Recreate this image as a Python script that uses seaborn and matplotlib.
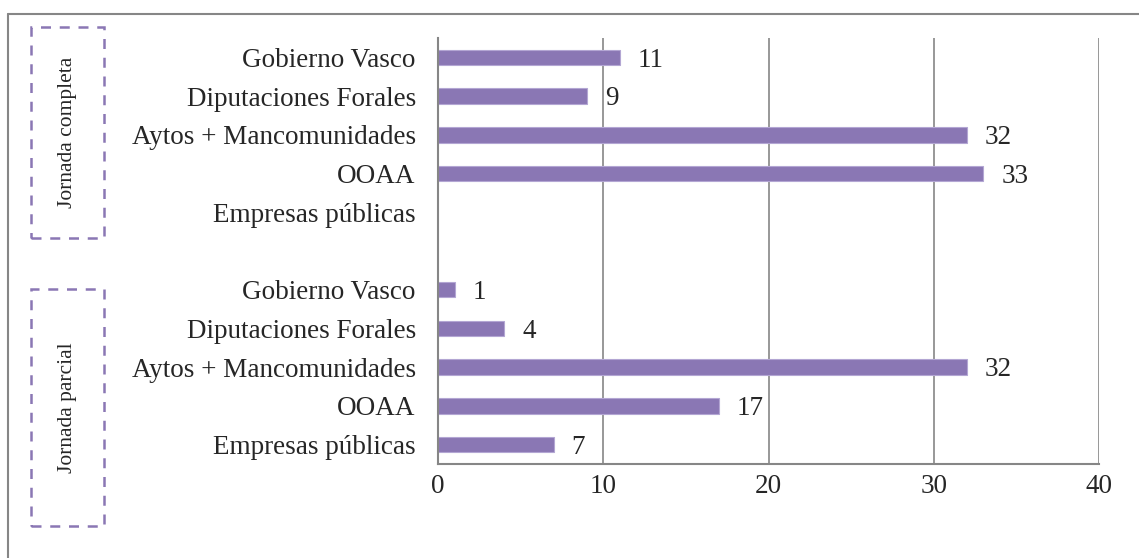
import matplotlib
matplotlib.use("Agg")
import matplotlib.pyplot as plt
from matplotlib.patches import Rectangle
from matplotlib.lines import Line2D
import seaborn as sns
import pandas as pd

# --- data (top to bottom) ---
labels = [
    "Gobierno Vasco", "Diputaciones Forales", "Aytos + Mancomunidades", "OOAA", "Empresas públicas",
    "",
    "Gobierno Vasco", "Diputaciones Forales", "Aytos + Mancomunidades", "OOAA", "Empresas públicas",
]
values = [11, 9, 32, 33, None, None, 1, 4, 32, 17, 7]
group_names = ["Jornada completa", "Jornada parcial"]
x_ticks = [0, 10, 20, 30, 40]

BAR = "#8A77B4"
GRID = "#868686"
FONT = "Liberation Serif"
FS = 19.5

sns.set_theme(style="white")
plt.rcParams["font.family"] = [FONT, "DejaVu Serif"]

df = pd.DataFrame({"row": range(len(labels)), "value": values}).dropna()

fig = plt.figure(figsize=(11.39, 5.58), dpi=100)
ax = fig.add_axes([438 / 1139, 1 - 464 / 558, (1099 - 438) / 1139, (464 - 38) / 558])

sns.barplot(data=df, x="value", y="row", orient="h", native_scale=True,
            color=BAR, saturation=1, width=0.4, edgecolor="#B3A6D3", linewidth=0.8, ax=ax)

ax.set_xlim(0, 40)
ax.set_ylim(len(labels) - 0.5, -0.5)
ax.set_xticks(x_ticks)
ax.set_xticklabels([str(t) for t in x_ticks], fontsize=FS)
ax.xaxis.grid(True, color=GRID, linewidth=1.2)
ax.set_axisbelow(True)

# tick marks at category boundaries, labels at centers
ax.set_yticks([i - 0.5 for i in range(len(labels) + 1)])
ax.set_yticklabels([])
ax.set_yticks(range(len(labels)), minor=True)
ax.set_yticklabels(labels, minor=True, fontsize=FS)
ax.tick_params(axis="y", which="major", length=6, width=1.2, color=GRID, direction="out")
ax.tick_params(axis="y", which="minor", length=0, pad=16)
ax.tick_params(axis="x", length=6, width=1.2, color=GRID, direction="out", pad=1.5)
ax.set_xlabel("")
ax.set_ylabel("")

for s in ["top", "right"]:
    ax.spines[s].set_visible(False)
for s in ["left", "bottom"]:
    ax.spines[s].set_color(GRID)
    ax.spines[s].set_linewidth(1.5)

# value labels
for r, v in zip(df["row"], df["value"]):
    ax.annotate(f"{int(v)}", (v, r), xytext=(13, -2), textcoords="offset points",
                va="center", ha="left", fontsize=FS)

# group boxes (pixel coords)
W, H = 1139, 558
boxes = [(31, 27, 104, 238), (31, 289, 104, 526)]
for (x0, y0, x1, y1), name in zip(boxes, group_names):
    fig.add_artist(Rectangle((x0 / W, 1 - y1 / H), (x1 - x0) / W, (y1 - y0) / H,
                             transform=fig.transFigure, fill=False, edgecolor=BAR,
                             linewidth=1.8, linestyle=(0, (4, 3.5))))
    fig.text((x0 + x1) / 2 / W, 1 - (y0 + y1) / 2 / H, name, rotation=90,
             ha="center", va="center", fontsize=15.5)

# outer chart border (right and bottom fall outside the image)
fig.add_artist(Line2D([8 / W, 1.01], [1 - 14 / H, 1 - 14 / H], transform=fig.transFigure,
                      color=GRID, linewidth=1.5))
fig.add_artist(Line2D([8 / W, 8 / W], [1 - 14 / H, -0.01], transform=fig.transFigure,
                      color=GRID, linewidth=1.5))

fig.savefig("out.png", dpi=100)
